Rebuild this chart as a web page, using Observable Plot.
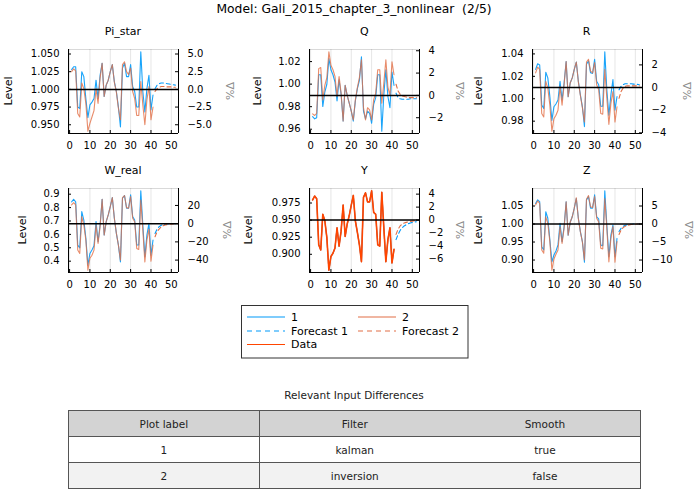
<!DOCTYPE html>
<html><head><meta charset="utf-8">
<script src="https://cdn.jsdelivr.net/npm/d3@7"></script>
<script src="https://cdn.jsdelivr.net/npm/@observablehq/plot@0.6"></script>
<style>
body{margin:0;background:#fff;font-family:"DejaVu Sans",sans-serif;color:#000;}
#root{position:relative;width:700px;height:500px;overflow:hidden;background:#fff;}
.lbl{position:absolute;white-space:pre;line-height:1;transform-origin:center center;}
.panel{position:absolute;}
table.diff{position:absolute;left:68px;top:410px;width:573px;border-collapse:collapse;font-size:10.5px;color:#222;table-layout:fixed;}
table.diff td{height:25px;text-align:center;padding:0;border-top:1px solid #555;border-bottom:1px solid #555;}
table.diff tr.h td{background:#d3d3d3;}
table.diff tr.r2 td{background:#f2f2f2;}
table.diff{border:1px solid #555;}
</style></head><body><div id="root"></div>
<script>
// ---------- data ----------
const panelNames = ["Pi_star","Q","R","W_real","Y","Z"];
const steadyStates = [1.0, 0.99, 1.01, 0.68, 0.95, 1.0];
const levelTicks = [[0.950,0.975,1.000,1.025,1.050],[0.96,0.98,1.00,1.02],[0.98,1.00,1.02,1.04],[0.4,0.5,0.6,0.7,0.8,0.9],[0.900,0.925,0.950,0.975],[0.90,0.95,1.00,1.05]];
const levelFormats = [".3f",".2f",".2f",".1f",".3f",".2f"];
const pctTicks = [[-5,-2.5,0,2.5,5],[-2,0,2,4],[-4,-2,0,2],[-40,-20,0,20],[-6,-4,-2,0,2,4],[-10,-5,0,5]];
const pctFormats = [".1f","d","d","d","d","d"];
const xTicks = [0,10,20,30,40,50];
const filterPeriods = d3.range(1, 42);
const forecastPeriods = d3.range(42, 53);

// %Δ from steady state
const piStar1 = [2.8,3.2,3.2,-2.5,-2.7,2.5,1.8,-1.3,-4.0,-2.2,-1.8,-1.3,1.3,-1.3,2.0,3.7,-1.0,0.6,1.3,2.5,3.5,1.1,-0.3,-2.5,-5.3,3.0,3.7,1.8,1.8,3.5,0.4,-0.3,-2.5,-2.5,5.3,-0.3,-3.2,0.1,2.0,-2.9,-0.8];
const piStar2 = [2.5,2.9,2.6,-3.4,-3.9,0.9,0.1,-2.0,-5.9,-4.8,-3.9,-3.0,0.1,-2.0,1.6,3.7,-1.0,0.6,1.3,2.5,3.5,1.0,-0.4,-2.7,-4.3,3.5,3.9,2.5,2.1,3.0,-0.3,-1.3,-3.7,-3.7,1.1,-2.2,-5.0,-1.5,0.4,-4.3,-2.5];
const piStarF1 = [0.1,0.6,0.8,0.9,0.9,0.85,0.8,0.75,0.7,0.65,0.6];
const piStarF2 = [-0.3,0.1,0.3,0.4,0.4,0.4,0.35,0.35,0.35,0.3,0.3];

const q1 = [-1.9,-2.1,-2.0,1.85,1.85,-1.0,0.3,1.0,3.3,2.3,1.85,1.2,-0.5,1.4,0.1,-2.3,0.9,0.0,-0.7,-1.4,-2.3,-0.5,0.6,1.35,3.45,-1.4,-2.1,-1.4,-1.6,-2.5,-0.8,-0.2,1.85,1.85,-3.2,0.05,2.3,-0.1,-1.1,2.1,0.9];
const q2 = [-1.65,-1.8,-1.6,2.4,2.5,-0.4,0.9,1.6,3.9,2.7,2.3,1.7,-0.1,1.7,0.2,-2.3,0.9,0.0,-0.7,-1.4,-2.2,-0.4,0.7,1.6,3.2,-1.1,-2.2,-1.1,-1.3,-2.2,-0.4,0.2,2.3,2.3,-0.7,1.1,3.2,0.75,0.0,3.0,1.85];
const qF1 = [0.2,-0.2,-0.3,-0.35,-0.35,-0.35,-0.35,-0.3,-0.3,-0.3,-0.3];
const qF2 = [1.0,0.4,0.1,-0.05,-0.1,-0.15,-0.2,-0.2,-0.2,-0.2,-0.2];

const r1 = [1.6,2.1,2.0,-1.55,-1.85,1.35,0.85,-0.8,-2.9,-1.7,-1.45,-1.1,0.55,-1.1,0.4,2.3,-0.8,0.4,0.85,1.6,2.25,0.55,-0.65,-1.7,-3.45,2.05,2.35,1.3,1.25,2.5,0.55,0.25,-1.65,-1.65,3.15,-0.2,-2.45,-0.65,0.7,-2.0,-0.8];
const r2 = [1.3,1.8,1.6,-2.3,-2.6,0.55,-0.05,-1.55,-3.85,-2.75,-2.45,-2.0,0.1,-1.55,0.25,2.3,-0.8,0.4,0.85,1.6,2.25,0.5,-0.7,-1.8,-3.05,2.25,2.5,1.45,1.3,2.2,0.25,-0.2,-2.3,-2.35,1.6,-0.95,-3.25,-1.4,-0.35,-3.05,-1.7];
const rF1 = [-0.2,0.1,0.25,0.33,0.33,0.33,0.33,0.3,0.3,0.28,0.25];
const rF2 = [-0.95,-0.35,-0.05,0.1,0.15,0.15,0.15,0.15,0.15,0.15,0.15];

const w1 = [24,26.8,24,-23.5,-26.5,13.2,4,-16,-45.6,-32.7,-29,-24.3,2.2,-19.9,-1.5,26.8,-12.5,2.2,9.6,18.8,28.7,5.9,-10.7,-23.5,-42,27.9,30.9,16.9,16.9,31.6,7.7,4.0,-23.5,-23.5,36,-1.5,-36.4,-12.5,0.4,-34.6,-18];
const w2 = [20.6,23,20.6,-29,-32.7,7.7,-1.5,-18,-51,-38,-34.6,-29,-1.5,-21.7,-3.3,26.8,-12.5,2.2,9.6,18.8,28.7,5.9,-10.7,-23.5,-40,28.7,30.9,17.6,16.9,29.8,5.9,2.2,-27.2,-28.3,26,-7,-42,-18,-5.9,-41.2,-23.5];
const wF1 = [-10.7,-5.9,-3.3,-1.8,-1.1,-0.7,-0.4,-0.3,-0.2,-0.1,0];
const wF2 = [-14.3,-8.8,-5.9,-3.7,-2.2,-1.5,-1.0,-0.7,-0.5,-0.3,-0.2];

const yData = [3.1,3.7,3.3,-3.8,-4.6,0.9,-0.1,-2.7,-7.7,-5.6,-5.1,-4.3,-1.2,-4.0,-1.7,2.3,-2.5,-0.6,0.7,2.3,3.8,-0.1,-1.9,-3.8,-6.4,3.5,4.2,2.8,2.8,4.5,1.2,0.9,-3.8,-4.0,4.3,-1.2,-6.4,-3.0,-1.2,-6.6,-4.5];
const yF1 = [-3.0,-2.2,-1.6,-1.2,-0.9,-0.7,-0.55,-0.45,-0.35,-0.3,-0.25];
const yF2 = [-2.2,-1.4,-0.9,-0.6,-0.45,-0.35,-0.25,-0.2,-0.15,-0.1,-0.05];

const z1 = [5.7,6.7,6.2,-6.3,-7.2,3.4,1.6,-4.4,-10.5,-8.6,-7.5,-5.8,0.2,-4.9,-0.7,6.2,-3.1,0.5,2.0,4.4,7.1,1.6,-2.1,-4.9,-10.6,6.7,7.6,4.4,4.4,8.1,2.0,1.4,-5.8,-6.0,9.2,-0.3,-9.1,-3.1,-0.3,-9.1,-4.0];
const z2 = [5.3,6.4,5.7,-7.2,-8.1,2.0,0.2,-4.9,-12.8,-9.7,-8.4,-7.2,-0.7,-5.4,-1.2,6.2,-3.1,0.5,2.0,4.4,7.3,1.5,-2.2,-5.0,-10.0,6.9,7.9,4.8,4.6,7.6,1.6,0.6,-6.7,-6.9,7.1,-1.2,-10.5,-4.0,-0.7,-10.6,-4.9];
const zF1 = [-2.1,-1.2,-0.65,-0.37,-0.2,-0.1,-0.05,0,0,0,0];
const zF2 = [-2.9,-1.7,-1.0,-0.65,-0.4,-0.25,-0.15,-0.1,-0.05,0,0];

const series1 = [piStar1, q1, r1, w1, yData, z1];
const series2 = [piStar2, q2, r2, w2, yData, z2];
const forecast1 = [piStarF1, qF1, rF1, wF1, yF1, zF1];
const forecast2 = [piStarF2, qF2, rF2, wF2, yF2, zF2];
const dataSeries = [null, null, null, null, yData, null];

const legendLabels = ["1","2","Forecast 1","Forecast 2","Data"];
const tableHeader = ["Plot label","Filter","Smooth"];
const tableRows = [["1","kalman","true"],["2","inversion","false"]];

// ---------- style / layout ----------
const BLUE = "#009AFA", ORANGE = "#E26F46", DATA = "#FF4500";
const FW = 110, FH = 84, ML = 60, MR = 45, MT = 6, MB = 22;
const colLeft = [68, 309.3, 531.7];
const rowTop = [49.3, 188.3];
const levelLabelX = [[8.3, 256.7, 478.3],[21.7, 248.3, 478.3]];
const pctLabelX = [[230, 460, 687],[227, 460, 689]];

const root = document.getElementById("root");
function addLabel(text, cx, cy, size, color, rot) {
  const d = document.createElement("div");
  d.className = "lbl";
  d.textContent = text;
  d.style.fontSize = size + "px";
  d.style.color = color || "#000";
  d.style.left = cx + "px";
  d.style.top = cy + "px";
  d.style.transform = "translate(-50%,-50%)" + (rot ? ` rotate(${rot}deg)` : "");
  root.appendChild(d);
}

addLabel("Model: Gali_2015_chapter_3_nonlinear  (2/5)", 354, 9, 12.3);

panelNames.forEach((name, i) => {
  const col = i % 3, row = Math.floor(i / 3);
  const ss = steadyStates[i];
  const dataVals = dataSeries[i] || [];
  const allVals = [].concat(series1[i], series2[i], forecast1[i], forecast2[i], dataVals);
  const [lo, hi] = d3.extent(allVals);
  const yPad = (hi - lo) * 0.03;
  const yDom = [lo - yPad, hi + yPad];
  const tExt = d3.extent(filterPeriods.concat(forecastPeriods));
  const xPad = (tExt[1] - tExt[0]) * 0.03;
  const xDom = [tExt[0] - xPad, tExt[1] + xPad];
  const toRows = (vals, ts) => vals.map((v, j) => ({t: ts[j], v}));
  const levelPos = levelTicks[i].map(l => (l / ss - 1) * 100);
  const fmtL = d3.format(levelFormats[i]);
  const marks = [
    Plot.ruleX(xTicks, {stroke: "#000", strokeOpacity: 0.1}),
    Plot.ruleY([yDom[1]], {stroke: "#000", strokeOpacity: 0.15}),
    Plot.line(toRows(series1[i], filterPeriods), {x: "t", y: "v", stroke: BLUE, strokeWidth: 1.1, strokeOpacity: 0.9}),
    Plot.line(toRows(series2[i], filterPeriods), {x: "t", y: "v", stroke: ORANGE, strokeWidth: 1.1, strokeOpacity: 0.8}),
    Plot.line(toRows(forecast1[i], forecastPeriods), {x: "t", y: "v", stroke: BLUE, strokeWidth: 1.1, strokeDasharray: "4,3"}),
    Plot.line(toRows(forecast2[i], forecastPeriods), {x: "t", y: "v", stroke: ORANGE, strokeWidth: 1.1, strokeDasharray: "4,3"})
  ];
  if (dataSeries[i]) marks.push(Plot.line(toRows(dataSeries[i], filterPeriods), {x: "t", y: "v", stroke: DATA, strokeWidth: 1.6}));
  marks.push(
    Plot.ruleY([0], {stroke: "#000", strokeWidth: 1.5}),
    Plot.ruleX(xDom, {stroke: "#000"}),
    Plot.ruleY([yDom[0]], {stroke: "#000"}),
    Plot.tickY(levelPos, {y: d => d, insetRight: FW - 3, stroke: "#000"}),
    Plot.tickY(pctTicks[i], {y: d => d, insetLeft: FW - 3, stroke: "#000"}),
    Plot.tickX(xTicks, {x: d => d, insetTop: FH - 3, stroke: "#000"}),
    Plot.axisY(levelPos, {anchor: "left", tickSize: 0, tickPadding: 9, tickFormat: d => fmtL(ss * (1 + d / 100)), label: null}),
    Plot.axisY(pctTicks[i], {anchor: "right", tickSize: 0, tickPadding: 9, tickFormat: d3.format(pctFormats[i]), label: null}),
    Plot.axisX(xTicks, {anchor: "bottom", tickSize: 0, tickPadding: 8, label: null})
  );
  const svg = Plot.plot({
    width: ML + FW + MR, height: MT + FH + MB,
    marginLeft: ML, marginRight: MR, marginTop: MT, marginBottom: MB,
    x: {domain: xDom}, y: {domain: yDom},
    style: {fontSize: "10px", fontFamily: "DejaVu Sans", background: "transparent", overflow: "visible", color: "#000"},
    marks
  });
  const wrap = document.createElement("div");
  wrap.className = "panel";
  wrap.style.left = (colLeft[col] - ML) + "px";
  wrap.style.top = (rowTop[row] - MT) + "px";
  wrap.appendChild(svg);
  root.appendChild(wrap);
  const cx = colLeft[col] + FW / 2, cy = rowTop[row] + FH / 2;
  addLabel(name, cx, rowTop[row] - 18, 11);
  addLabel("Level", levelLabelX[row][col], cy, 11, "#000", -90);
  addLabel("%Δ", pctLabelX[row][col], cy, 11, "#8c8c8c", -90);
});

// ---------- legend ----------
const lg = d3.select(root).append("svg")
  .style("position", "absolute").style("left", "241px").style("top", "305px")
  .attr("width", 228).attr("height", 54)
  .style("font-family", "DejaVu Sans").style("font-size", "11px");
lg.append("rect").attr("x", 0.5).attr("y", 0.5).attr("width", 226.5).attr("height", 52.5)
  .attr("fill", "#fff").attr("stroke", "#333");
const legendItems = [
  {label: legendLabels[0], color: BLUE, dash: null, x: 6, y: 12},
  {label: legendLabels[1], color: ORANGE, dash: null, x: 117, y: 12},
  {label: legendLabels[2], color: BLUE, dash: "5,4", x: 6, y: 26},
  {label: legendLabels[3], color: ORANGE, dash: "5,4", x: 117, y: 26},
  {label: legendLabels[4], color: DATA, dash: null, x: 6, y: 39.5}
];
legendItems.forEach(it => {
  lg.append("line").attr("x1", it.x).attr("x2", it.x + 38).attr("y1", it.y).attr("y2", it.y)
    .attr("stroke", it.color).attr("stroke-width", 1.2).attr("stroke-dasharray", it.dash);
  lg.append("text").attr("x", it.x + 44).attr("y", it.y).attr("dy", "0.35em").text(it.label);
});

// ---------- table ----------
addLabel("Relevant Input Differences", 354, 395, 10.5, "#222");
const tbl = document.createElement("table");
tbl.className = "diff";
const hr = tbl.insertRow(); hr.className = "h";
tableHeader.forEach((h, j) => { const c = hr.insertCell(); c.textContent = h; if (j === 0) c.style.borderRight = "1px solid #555"; });
tableRows.forEach((r, k) => {
  const tr = tbl.insertRow(); if (k === 1) tr.className = "r2";
  r.forEach((v, j) => { const c = tr.insertCell(); c.textContent = v; if (j === 0) c.style.borderRight = "1px solid #555"; });
});
root.appendChild(tbl);
</script>
</body></html>
